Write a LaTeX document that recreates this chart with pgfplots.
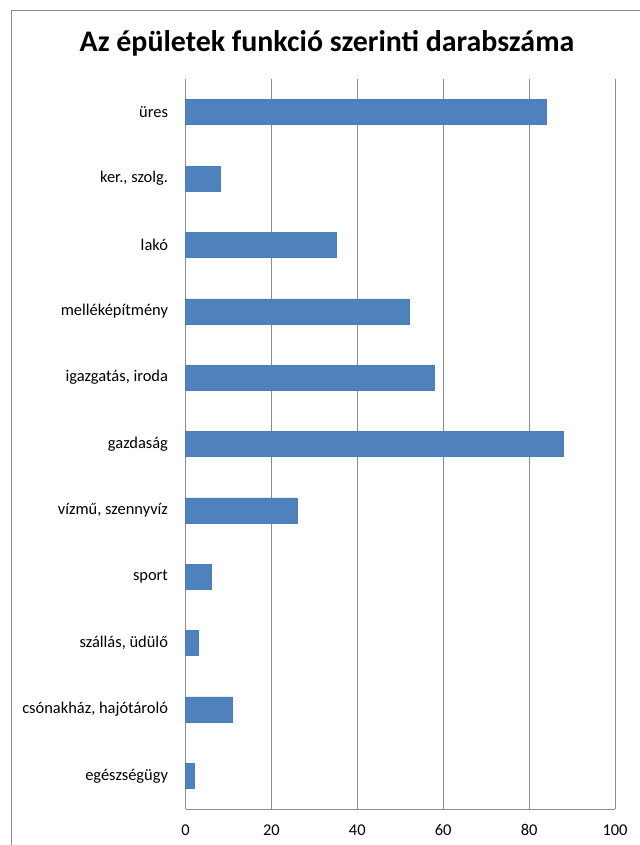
\documentclass[border=0pt]{standalone}
\usepackage{pgfplots}
\pgfplotsset{compat=1.18}
\usepackage{fontspec}
\setmainfont{Carlito}
\definecolor{barblue}{HTML}{4F81BD}
\definecolor{baredge}{HTML}{4A7EBB}
\definecolor{gridgray}{HTML}{8C8C8C}
\begin{document}
\begin{tikzpicture}
\useasboundingbox (0bp,0bp) rectangle (640bp,845bp);
\clip (0bp,0bp) rectangle (640bp,845bp);
\fill[white] (0bp,0bp) rectangle (640bp,845bp);
\draw[gridgray, line width=1bp] (11.5bp,-20bp) rectangle (680bp,834bp);
\node[anchor=base, font=\fontsize{30}{36}\selectfont\bfseries, inner sep=0pt] at (327bp,793bp) {Az épületek funkció szerinti darabszáma};
\begin{axis}[
  at={(185.5bp,36bp)}, anchor=south west,
  scale only axis, width=429.5bp, height=730bp,
  xbar, bar width=25bp,
  xmin=0, xmax=100, ymin=-0.5, ymax=10.5,
  y dir=reverse,
  xtick={0,20,...,100},
  ytick={0,...,10},
  yticklabels={üres, {ker., szolg.}, lakó, melléképítmény, {igazgatás, iroda}, gazdaság, {vízmű, szennyvíz}, sport, {szállás, üdülő}, {csónakház, hajótároló}, egészségügy},
  xmajorgrids, major grid style={gridgray, line width=0.9bp},
  axis x line*=bottom, axis y line*=left,
  axis line style={gridgray, line width=0.9bp, -},
  major tick length=0pt,
  tick label style={font=\fontsize{16.5}{19.5}\selectfont, text=black},
  /pgf/number format/assume math mode=true,
  xticklabel style={yshift=-12bp},
  yticklabel style={xshift=-14bp},
  clip=false,
]
\addplot[fill=barblue, draw=baredge, line width=0.5bp] coordinates {
(84,0) (8,1) (35,2) (52,3) (58,4) (88,5) (26,6) (6,7) (3,8) (11,9) (2,10)
};
\end{axis}
\end{tikzpicture}
\end{document}
